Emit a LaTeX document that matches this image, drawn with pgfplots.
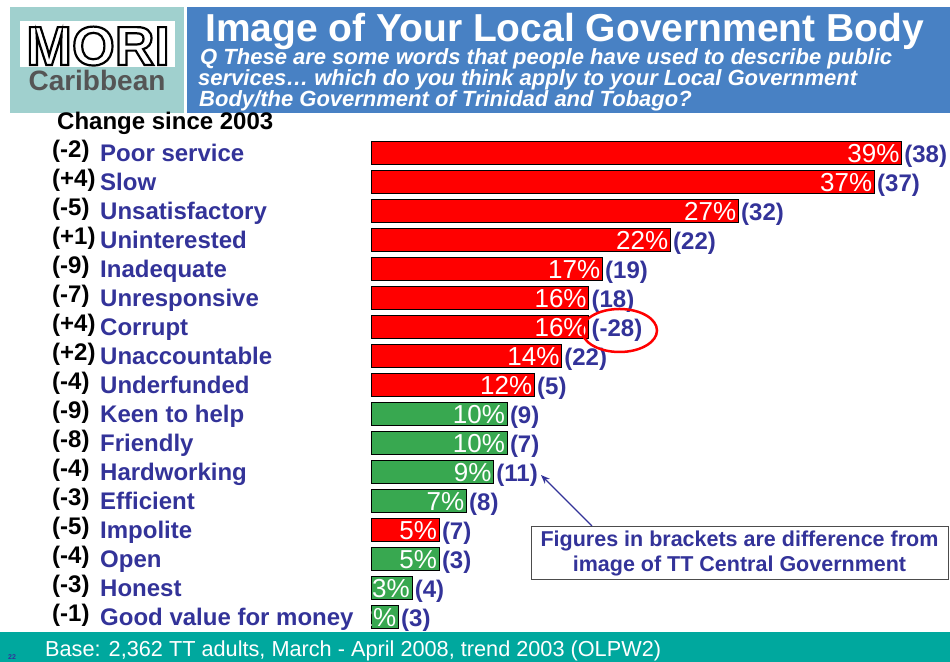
\documentclass[border=0pt]{standalone}
\usepackage{pgfplots}
\pgfplotsset{compat=1.18}
\usepackage{pgfplotstable}
\usepackage{fontspec}
\setmainfont{Liberation Sans}
\usetikzlibrary{arrows.meta}
\definecolor{catblue}{RGB}{51,51,153}
\definecolor{barred}{RGB}{255,0,0}
\definecolor{bargreen}{RGB}{56,168,80}
\definecolor{bannerblue}{RGB}{72,129,196}
\definecolor{logoteal}{RGB}{160,208,206}
\definecolor{footteal}{RGB}{0,168,158}
\definecolor{logogray}{RGB}{85,85,85}
\newcommand\fs[1]{\fontsize{#1bp}{#1bp}\selectfont}
\newcommand\lab[2]{\makebox[48bp][l]{\raisebox{4bp}{\color{black}#1}}\textcolor{catblue}{#2}}

\pgfplotstableread{
i v d
1 39 38
2 37 37
3 27 32
4 22 22
5 17 19
6 16 18
7 16 -28
8 14 22
9 12 5
14 5 7
}\redtab
\pgfplotstableread{
i v d
10 10 9
11 10 7
12 9 11
13 7 8
15 5 3
16 3 4
17 2 3
}\greentab

\begin{document}
\begin{tikzpicture}
\useasboundingbox (0,0) rectangle (950bp,662bp);
\fill[white] (0,0) rectangle (950bp,662bp);
\begin{scope}[shift={(0,662bp)}, x=1bp, y=-1bp]
 \fill[logoteal] (10,7) rectangle (184,113);
 \fill[bannerblue] (187,7) rectangle (950,113);
 \fill[white] (20,21) rectangle (175,67);
 \node[anchor=base, text=white, font=\fs{55}\bfseries, inner sep=0pt, text depth=0pt] at (98,65) {\special{pdf:code q 0 0 0 RG 2 Tr 2.2 w}MORI\special{pdf:code Q}};
 \node[anchor=base, text=logogray, font=\fs{28}\bfseries, inner sep=0pt, text height=17bp] at (97,91) {Caribbean};
 \node[anchor=base west, text=white, font=\fs{39}\bfseries, inner sep=0pt, text depth=0pt] at (205,42) {Image of Your Local Government Body};
 \node[anchor=base west, text=white, font=\fs{22}\bfseries\itshape, inner sep=0pt] at (200,65) {Q These are some words that people have used to describe public};
 \node[anchor=base west, text=white, font=\fs{22}\bfseries\itshape, inner sep=0pt] at (198,86) {services\ldots\ which do you think apply to your Local Government};
 \node[anchor=base west, text=white, font=\fs{22}\bfseries\itshape, inner sep=0pt] at (199,107) {Body/the Government of Trinidad and Tobago?};
 \node[anchor=base west, text=black, font=\fs{24}\bfseries, inner sep=0pt] at (57,130) {Change since 2003};
 \fill[footteal] (0,632) rectangle (950,662);
 \node[anchor=base west, text=white, font=\fs{21.7}, inner sep=0pt] at (45,657) {Base: 2,362 TT adults, March - April 2008, trend 2003 (OLPW2)};
 \node[anchor=base west, text=catblue, font=\fs{7}\bfseries, inner sep=0pt] at (8,660) {22};
\end{scope}

\begin{axis}[
 at={(371bp,30.5bp)}, anchor=south west, scale only axis,
 width=579bp, height=493bp,
 xmin=0, xmax=42.574, ymin=0.5, ymax=17.5, y dir=reverse,
 xbar, bar width=23bp, bar shift=0pt,
 axis line style={draw=none}, xtick=\empty, ytick={1,...,17}, major tick length=0pt,
 /pgf/number format/assume math mode=true,
 yticklabels={
  {\lab{(-2)}{Poor service}},
  {\lab{(+4)}{Slow}},
  {\lab{(-5)}{Unsatisfactory}},
  {\lab{(+1)}{Uninterested}},
  {\lab{(-9)}{Inadequate}},
  {\lab{(-7)}{Unresponsive}},
  {\lab{(+4)}{Corrupt}},
  {\lab{(+2)}{Unaccountable}},
  {\lab{(-4)}{Underfunded}},
  {\lab{(-9)}{Keen to help}},
  {\lab{(-8)}{Friendly}},
  {\lab{(-4)}{Hardworking}},
  {\lab{(-3)}{Efficient}},
  {\lab{(-5)}{Impolite}},
  {\lab{(-4)}{Open}},
  {\lab{(-3)}{Honest}},
  {\lab{(-1)}{Good value for money}}},
 yticklabel style={anchor=base west, inner sep=0pt, xshift=-319bp, yshift=-8bp, font=\fs{24}\bfseries},
 clip=true,
 point meta=explicit symbolic,
 visualization depends on={\thisrow{v} \as \xval},
 nodes near coords={\makebox[0pt][r]{\fs{26}\mdseries\textcolor{white}{\pgfmathprintnumber[fixed,precision=0,assume math mode=true]{\xval}\%}\hspace{2bp}}\makebox[0pt][l]{\hspace{3bp}\fs{24}\bfseries\textcolor{catblue}{(\pgfplotspointmeta)}}},
 every node near coord/.append style={anchor=base, inner sep=0pt, yshift=-9bp, font=\mdseries},
]
\addplot[fill=barred, draw=black, line width=0.6bp] table[x=v, y=i, meta=d] {\redtab};
\addplot[fill=bargreen, draw=black, line width=0.6bp] table[x=v, y=i, meta=d] {\greentab};
\end{axis}

\begin{scope}[shift={(0,662bp)}, x=1bp, y=-1bp]
 \draw[red, line width=2.5bp] (619.5,330.5) ellipse [x radius=37.5bp, y radius=21.5bp];
 \draw[black!70, line width=0.8bp, fill=white] (531,526) rectangle (948,579);
 \node[anchor=base, text=catblue, font=\fs{21.5}\bfseries, inner sep=0pt] at (739.5,547) {Figures in brackets are difference from};
 \node[anchor=base, text=catblue, font=\fs{21.5}\bfseries, inner sep=0pt] at (739.5,572) {image of TT Central Government};
 \draw[catblue, line width=1.3bp, -{Stealth[length=9bp,width=7bp]}] (592,526) -- (541,475);
\end{scope}
\end{tikzpicture}
\end{document}
